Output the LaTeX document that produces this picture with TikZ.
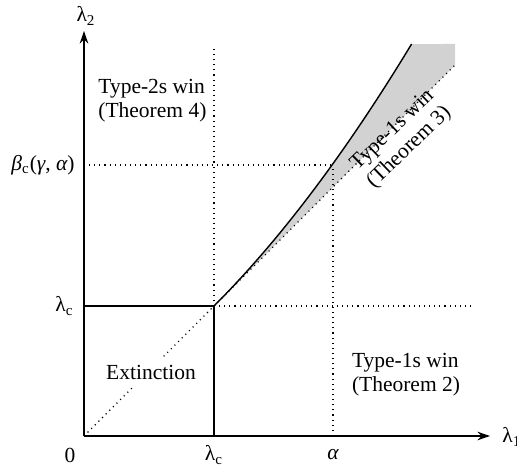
\documentclass[tikz,border=0pt]{standalone}
\usepackage{fontspec}
\setmainfont{Liberation Serif}
\usetikzlibrary{arrows.meta}

\begin{document}
\begin{tikzpicture}[x=1.75cm, y=1.75cm,
    axis/.style={-{Stealth[length=2.2mm, width=1.5mm]}, line width=0.7pt},
    border/.style={line width=0.7pt},
    guide/.style={dotted, line width=0.55pt},
    region/.style={font=\fontsize{10.7}{12}\selectfont, align=left, inner sep=1pt},
    ticklabel/.style={font=\fontsize{10.7}{12}\selectfont, inner sep=1pt},
]
    \useasboundingbox (-0.84,-0.31) rectangle (4.33,4.36);

    % Points
    \coordinate (O) at (0,0);
    \coordinate (xend) at (4.06,0);
    \coordinate (yend) at (0,4.05);
    \coordinate (crit) at (1.3,1.3);
    \coordinate (lcx) at (1.3,0);
    \coordinate (lcy) at (0,1.3);
    \coordinate (lcright) at (3.91,1.3);
    \coordinate (lctop) at (1.3,3.9);
    \coordinate (ax) at (2.49,0);
    \coordinate (bcy) at (0,2.71);
    \coordinate (meet) at (2.49,2.71);
    \coordinate (diagend) at (3.71,3.71);

    % Shaded region between the curve and the diagonal
    \fill[gray!35] plot[domain=1.3:3.276, samples=40] (\x, {\x+0.165*(\x-1.3)^2})
        -- (3.71,3.92) -- (diagend) -- cycle;

    % Dotted guides
    \draw[guide] (O) -- (diagend);
    \draw[guide] (crit) -- (lcright);
    \draw[guide] (crit) -- (lctop);
    \draw[guide] (ax) -- (meet);
    \draw[guide] (bcy) -- (meet);

    % Boundaries
    \draw[border] (lcy) -- (crit) -- (lcx);
    \draw[border] plot[domain=1.3:3.276, samples=40] (\x, {\x+0.165*(\x-1.3)^2});

    % Axes
    \draw[axis] (O) -- (xend);
    \draw[axis] (O) -- (yend);

    % Axis labels
    \node[ticklabel, anchor=west] (l1) at (4.16,-0.01) {λ\textsubscript{1}};
    \node[ticklabel] (l2) at (0.02,4.2) {λ\textsubscript{2}};
    \node[ticklabel] (zero) at (-0.14,-0.19) {0};
    \node[ticklabel] (lcb) at (1.3,-0.19) {λ\textsubscript{c}};
    \node[ticklabel] (alpha) at (2.49,-0.19) {\itshape α};
    \node[ticklabel, anchor=east] (lcl) at (-0.08,1.3) {λ\textsubscript{c}};
    \node[ticklabel, anchor=east] (bc) at (-0.07,2.71)
        {{\itshape β}\textsubscript{c}({\itshape γ}, {\itshape α})};

    % Regions
    \node[region, fill=white, inner sep=4pt] (ext) at (0.67,0.64) {Extinction};
    \node[region, anchor=west] (two) at (0.12,3.35) {Type-2s win\\(Theorem 4)};
    \node[region] (oneb) at (3.22,0.61) {Type-1s win\\(Theorem 2)};
    \node[region, align=center, rotate=44] (onet) at (3.17,2.97) {Type-1s win\\(Theorem 3)};
\end{tikzpicture}
\end{document}
